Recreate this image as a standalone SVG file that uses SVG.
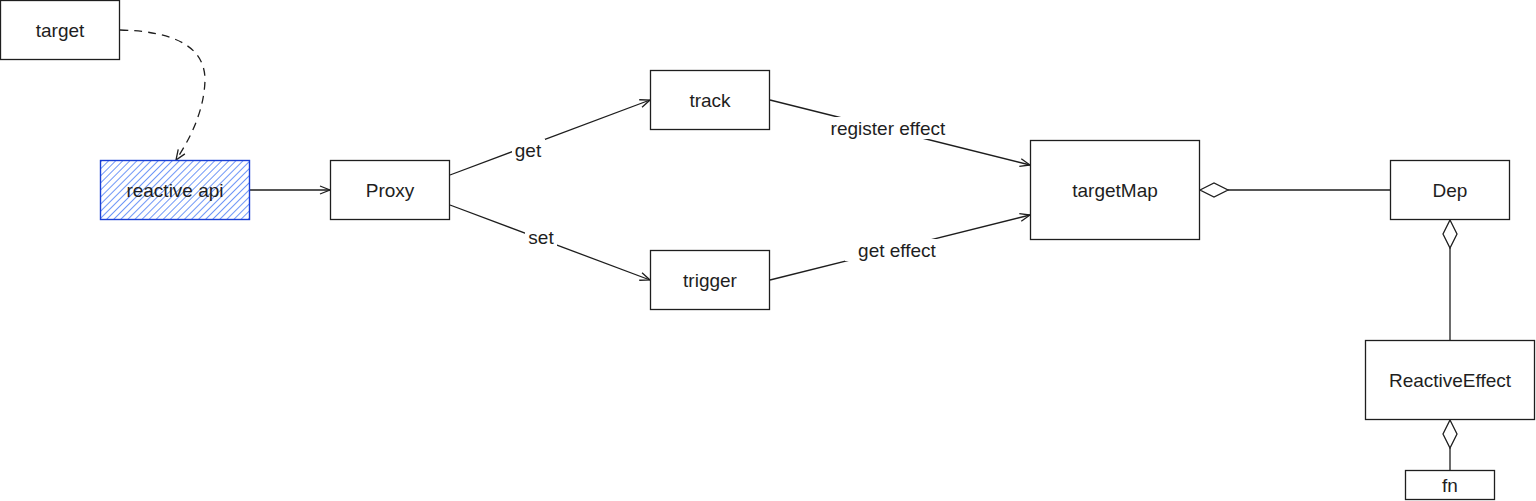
<svg xmlns="http://www.w3.org/2000/svg" width="1536" height="501" viewBox="0 0 1536 501">
<style>
.box{fill:#ffffff;stroke:#1e1e1e;stroke-width:1.3}
.lbl{font-family:"Liberation Sans",Arial,sans-serif;font-size:19px;fill:#1e1e1e;text-anchor:middle;dominant-baseline:central}
.edge{fill:none;stroke:#1e1e1e;stroke-width:1.3}
.dia{fill:#ffffff;stroke:#1e1e1e;stroke-width:1.3}
.bg{fill:#ffffff}
</style>
<defs>
<pattern id="hatch" patternUnits="userSpaceOnUse" width="5" height="5" patternTransform="rotate(45)">
<line x1="0" y1="0" x2="0" y2="5" stroke="#4a7cf5" stroke-width="1.6"/>
</pattern>
<marker id="arr" viewBox="0 0 12 10" refX="11" refY="5" markerWidth="12" markerHeight="10" markerUnits="userSpaceOnUse" orient="auto">
<path d="M1,1 L11,5 L1,9" fill="none" stroke="#1e1e1e" stroke-width="1.3"/>
</marker>
</defs>
<rect width="1536" height="501" fill="#ffffff"/>
<g id="connectors">
<path class="edge" d="M120,30 Q205,32 205,80 Q204,118 176,160" stroke-dasharray="8 6" marker-end="url(#arr)"/>
<line class="edge" x1="250" y1="190" x2="330" y2="190" marker-end="url(#arr)"/>
<line class="edge" x1="450" y1="175" x2="650" y2="100" marker-end="url(#arr)"/>
<line class="edge" x1="450" y1="205" x2="650" y2="280" marker-end="url(#arr)"/>
<line class="edge" x1="770" y1="100" x2="1030" y2="165" marker-end="url(#arr)"/>
<line class="edge" x1="770" y1="280" x2="1030" y2="215" marker-end="url(#arr)"/>
<line class="edge" x1="1228" y1="190" x2="1390" y2="190"/>
<polygon class="dia" points="1200,190 1214,183 1228,190 1214,197"/>
<line class="edge" x1="1450" y1="248" x2="1450" y2="340"/>
<polygon class="dia" points="1450,220 1457,234 1450,248 1443,234"/>
<line class="edge" x1="1450" y1="448" x2="1450" y2="470"/>
<polygon class="dia" points="1450,420 1457,434 1450,448 1443,434"/>
<rect class="bg" x="512" y="139" width="33" height="22"/>
<text class="lbl" x="528" y="150">get</text>
<rect class="bg" x="525" y="226" width="32" height="22"/>
<text class="lbl" x="541" y="237">set</text>
<rect class="bg" x="812" y="117" width="124" height="22"/>
<text class="lbl" x="888" y="128">register effect</text>
<rect class="bg" x="845" y="239" width="104" height="22"/>
<text class="lbl" x="897" y="250">get effect</text>
</g>
<g id="target">
<rect class="box" x="0.5" y="0.5" width="119" height="59"/>
<text class="lbl" x="60" y="30">target</text>
</g>
<g id="reactive-api">
<rect x="100.5" y="160.5" width="149" height="59" fill="url(#hatch)" stroke="#1a3fd4" stroke-width="1.4"/>
<text class="lbl" x="175" y="190">reactive api</text>
</g>
<g id="proxy">
<rect class="box" x="330.5" y="160.5" width="119" height="59"/>
<text class="lbl" x="390" y="190">Proxy</text>
</g>
<g id="track">
<rect class="box" x="650.5" y="70.5" width="119" height="59"/>
<text class="lbl" x="710" y="100">track</text>
</g>
<g id="trigger">
<rect class="box" x="650.5" y="250.5" width="119" height="59"/>
<text class="lbl" x="710" y="280">trigger</text>
</g>
<g id="targetMap">
<rect class="box" x="1030.5" y="140.5" width="169" height="99"/>
<text class="lbl" x="1115" y="190">targetMap</text>
</g>
<g id="dep">
<rect class="box" x="1390.5" y="160.5" width="119" height="59"/>
<text class="lbl" x="1450" y="190">Dep</text>
</g>
<g id="reactiveEffect">
<rect class="box" x="1365.5" y="340.5" width="169" height="79"/>
<text class="lbl" x="1450" y="380">ReactiveEffect</text>
</g>
<g id="fn">
<rect class="box" x="1405.5" y="470.5" width="89" height="29"/>
<text class="lbl" x="1450" y="485">fn</text>
</g>
</svg>
